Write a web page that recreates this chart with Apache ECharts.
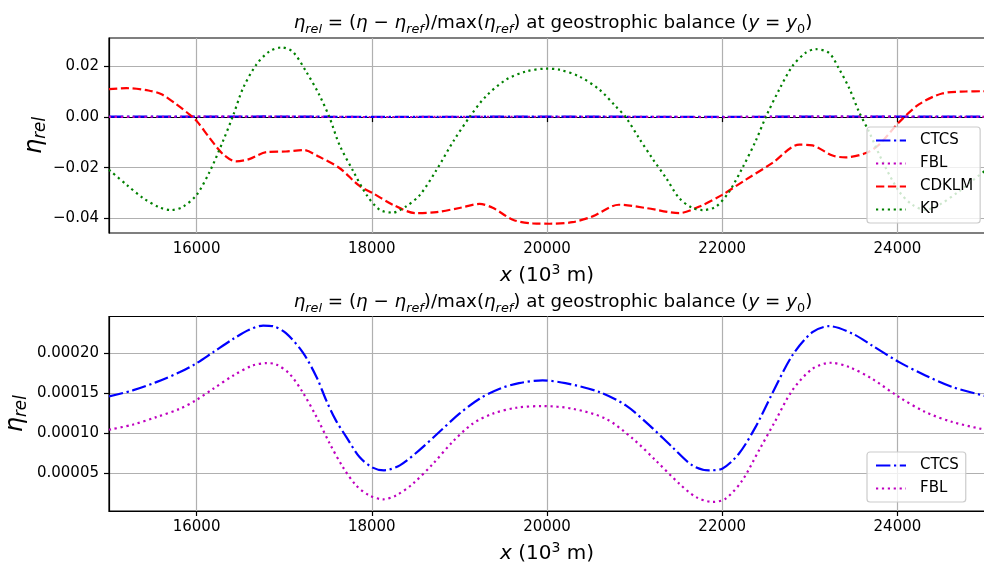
<!DOCTYPE html>
<html><head><meta charset="utf-8">
<script src="https://cdn.jsdelivr.net/npm/echarts@6/dist/echarts.min.js"></script>
<style>html,body{margin:0;padding:0;background:#fff}#c{width:984px;height:570px}</style>
</head><body><div id="c"></div>
<script>
// ---- data ----
const xTicks = [16000, 18000, 20000, 22000, 24000];
const yTicksTop = [-0.04, -0.02, 0.00, 0.02];
const yTicksBottom = [0.00005, 0.00010, 0.00015, 0.00020];

const ctcsX = [15000,15270,15540,15810,15990,16190,16420,16600,16760,16870,17020,17210,17370,17480,17590,17710,17860,18010,18140,18320,18540,18770,19000,19230,19460,19680,19950,20210,20600,20900,21170,21430,21660,21850,22000,22190,22380,22570,22800,23030,23220,23490,23710,24020,24320,24630,25000];
const ctcsY = [0.0001459,0.0001534,0.0001638,0.0001763,0.0001868,0.0002013,0.0002180,0.0002293,0.0002346,0.0002338,0.0002250,0.0002013,0.0001700,0.0001409,0.0001159,0.0000950,0.0000700,0.0000568,0.0000534,0.0000596,0.0000784,0.0001013,0.0001243,0.0001430,0.0001555,0.0001625,0.0001659,0.0001625,0.0001513,0.0001346,0.0001096,0.0000825,0.0000596,0.0000534,0.0000555,0.0000742,0.0001075,0.0001492,0.0001971,0.0002263,0.0002338,0.0002243,0.0002096,0.0001888,0.0001721,0.0001575,0.0001465];

const fblX = [15000,15270,15540,15810,15990,16190,16420,16640,16800,16910,17060,17210,17370,17520,17670,17820,17970,18130,18280,18470,18700,18920,19150,19380,19650,19950,20290,20670,20980,21240,21510,21700,21890,22040,22230,22420,22610,22800,23030,23240,23450,23710,24020,24320,24630,25000];
const fblY = [0.0001042,0.0001105,0.0001200,0.0001305,0.0001409,0.0001555,0.0001721,0.0001846,0.0001875,0.0001859,0.0001742,0.0001513,0.0001200,0.0000868,0.0000575,0.0000346,0.0000221,0.0000171,0.0000221,0.0000367,0.0000618,0.0000888,0.0001117,0.0001243,0.0001317,0.0001338,0.0001305,0.0001180,0.0000930,0.0000659,0.0000367,0.0000200,0.0000138,0.0000180,0.0000409,0.0000784,0.0001159,0.0001534,0.0001805,0.0001880,0.0001825,0.0001680,0.0001450,0.0001263,0.0001138,0.0001042];

const cdklmX = [15000,15200,15450,15600,15770,15920,16000,16150,16300,16450,16600,16800,17020,17220,17400,17630,17860,18010,18240,18500,18740,19000,19230,19380,19610,19840,20030,20290,20520,20820,21130,21510,21740,22000,22270,22570,22880,23030,23260,23410,23640,23790,24020,24250,24510,24780,25000];
const cdklmY = [0.0110,0.0114,0.0105,0.0090,0.0050,0.0010,-0.0015,-0.0083,-0.0146,-0.0175,-0.0166,-0.0138,-0.0136,-0.0130,-0.0157,-0.0201,-0.0272,-0.0300,-0.0346,-0.0379,-0.0375,-0.0359,-0.0343,-0.0358,-0.0405,-0.0420,-0.0421,-0.0415,-0.0392,-0.0346,-0.0359,-0.0379,-0.0353,-0.0307,-0.0247,-0.0182,-0.0109,-0.0112,-0.0152,-0.0159,-0.0142,-0.0109,-0.0020,0.0051,0.0093,0.0101,0.0102];

const kpX = [15000,15200,15390,15580,15710,15850,16000,16150,16300,16420,16530,16680,16830,16970,17100,17250,17400,17520,17630,17790,17940,18090,18240,18390,18550,18740,18930,19120,19300,19530,19760,19990,20140,20370,20600,20785,20900,21050,21200,21360,21510,21660,21775,21930,22080,22230,22380,22500,22650,22800,22950,23065,23220,23330,23450,23560,23675,23830,24020,24170,24320,24480,24700,24860,25000];
const kpY = [-0.0208,-0.0267,-0.0320,-0.0357,-0.0367,-0.0353,-0.0307,-0.0215,-0.0096,0.0009,0.0114,0.0206,0.0259,0.0275,0.0257,0.0180,0.0088,-0.0004,-0.0109,-0.0215,-0.0307,-0.0366,-0.0377,-0.0353,-0.0307,-0.0208,-0.0096,0.0002,0.0081,0.0147,0.0180,0.0191,0.0187,0.0160,0.0108,0.0042,-0.0001,-0.0083,-0.0162,-0.0241,-0.0320,-0.0359,-0.0367,-0.0353,-0.0294,-0.0201,-0.0096,0.0002,0.0108,0.0200,0.0253,0.0268,0.0253,0.0193,0.0114,0.0022,-0.0057,-0.0175,-0.0294,-0.0346,-0.0366,-0.0346,-0.0294,-0.0250,-0.0212];

// ---- chart ----
const pairs = (xs, ys) => xs.map((x, i) => [x, ys[i]]);
const FONT = 'DejaVu Sans';
const LW = 2.2;

const base = { fontFamily: FONT, color: '#000', fontWeight: 'normal' };
const titleRich = {
  n:  Object.assign({}, base, { fontSize: 18.3, lineHeight: 26, verticalAlign: 'middle' }),
  i:  Object.assign({}, base, { fontSize: 18.3, fontStyle: 'italic', lineHeight: 26, verticalAlign: 'middle' }),
  s:  Object.assign({}, base, { fontSize: 12.8, fontStyle: 'italic', lineHeight: 16, verticalAlign: 'bottom' }),
  s0: Object.assign({}, base, { fontSize: 12.8, lineHeight: 16, verticalAlign: 'bottom' })
};
const titleText = '{i|η}{s|rel}{n| = (}{i|η}{n| − }{i|η}{s|ref}{n|)/max(}{i|η}{s|ref}{n|) at geostrophic balance (}{i|y}{n| = }{i|y}{s0|0}{n|)}';

const xName = '{i|x}{n| (10}{p|3}{n| m)}';
const xNameRich = {
  n: Object.assign({}, base, { fontSize: 20, lineHeight: 26, verticalAlign: 'middle' }),
  i: Object.assign({}, base, { fontSize: 20, fontStyle: 'italic', lineHeight: 26, verticalAlign: 'middle' }),
  p: Object.assign({}, base, { fontSize: 14, lineHeight: 16, verticalAlign: 'top' })
};
const yName = '{i|η}{s|rel}';
const yNameRich = {
  i: Object.assign({}, base, { fontSize: 24, fontStyle: 'italic', lineHeight: 28, verticalAlign: 'middle' }),
  s: Object.assign({}, base, { fontSize: 16.8, fontStyle: 'italic', lineHeight: 18, verticalAlign: 'bottom' })
};

function xAxis(gi) {
  return {
    type: 'value', gridIndex: gi, min: 15000, max: 25000,
    name: xName, nameLocation: 'middle', nameGap: 30, nameMoveOverlap: false,
    nameTextStyle: { rich: xNameRich },
    axisLine: { show: true, lineStyle: { color: '#000', width: 1.2 } },
    axisTick: { show: true, length: 5, lineStyle: { color: '#000', width: 1.2 }, customValues: xTicks },
    axisLabel: { customValues: xTicks, color: '#000', fontFamily: FONT, fontSize: 15, margin: 9, formatter: v => String(v) },
    splitLine: { show: true, lineStyle: { color: '#b0b0b0', width: 1.2 } }
  };
}
function yAxis(gi, min, max, ticks, dec, gap) {
  return {
    type: 'value', gridIndex: gi, min: min, max: max,
    name: yName, nameLocation: 'middle', nameGap: gap, nameRotate: 90, nameMoveOverlap: false,
    nameTextStyle: { rich: yNameRich },
    axisLine: { show: true, lineStyle: { color: '#000', width: 1.2 } },
    axisTick: { show: true, length: 5, lineStyle: { color: '#000', width: 1.2 }, customValues: ticks },
    axisLabel: { customValues: ticks, color: '#000', fontFamily: FONT, fontSize: 15, margin: 10,
      formatter: v => v.toFixed(dec).replace('-', '\u2212') },
    splitLine: { show: true, lineStyle: { color: '#b0b0b0', width: 1.2 } }
  };
}
function line(name, gi, data, color, type) {
  return {
    name: name, type: 'line', xAxisIndex: gi, yAxisIndex: gi, data: data,
    symbol: 'none', showSymbol: false, smooth: 0.3, animation: false,
    lineStyle: { color: color, width: LW, type: type }, itemStyle: { color: color }
  };
}
const DASHDOT = [14.4, 3.6, 2.2, 3.6];
const DOTTED = [2.2, 3.7];
const DASHED = [8.3, 3.6];

function legend(names, top) {
  return {
    data: names, orient: 'vertical', left: 867, top: top,
    itemWidth: 30, itemHeight: 14, itemGap: 8,
    padding: [6, 7, 6, 8],
    backgroundColor: 'rgba(255,255,255,0.8)', borderColor: '#cccccc', borderWidth: 1.2, borderRadius: 3,
    itemStyle: { opacity: 0 },
    textStyle: { fontFamily: FONT, fontSize: 15, color: '#000', lineHeight: 15, padding: [0, 0, 0, 9] },
    z: 10
  };
}

const chart = echarts.init(document.getElementById('c'), null, { renderer: 'canvas' });
chart.setOption({
  animation: false,
  backgroundColor: '#fff',
  title: [
    { text: titleText, left: 548, top: 5, textAlign: 'center', textStyle: { rich: titleRich, fontWeight: 'normal' } },
    { text: titleText, left: 548, top: 284, textAlign: 'center', textStyle: { rich: titleRich, fontWeight: 'normal' } }
  ],
  grid: [
    { left: 109, top: 38, width: 876, height: 195, show: true, borderColor: '#000', borderWidth: 1.2, backgroundColor: 'transparent', containLabel: false, outerBoundsMode: 'none' },
    { left: 109, top: 316.5, width: 876, height: 194.5, show: true, borderColor: '#000', borderWidth: 1.2, backgroundColor: 'transparent', containLabel: false, outerBoundsMode: 'none' }
  ],
  xAxis: [xAxis(0), xAxis(1)],
  yAxis: [
    yAxis(0, -0.04576, 0.03121, yTicksTop, 2, 60),
    yAxis(1, 0.0000025, 0.0002459, yTicksBottom, 5, 79)
  ],
  legend: [
    legend(['CTCS', 'FBL', 'CDKLM', 'KP'], 127),
    legend(['CTCS', 'FBL'], 452)
  ],
  series: [
    line('CTCS', 0, pairs(ctcsX, ctcsY), '#0000ff', DASHDOT),
    line('FBL', 0, pairs(fblX, fblY), '#bf00bf', DOTTED),
    line('CDKLM', 0, pairs(cdklmX, cdklmY), '#ff0000', DASHED),
    line('KP', 0, pairs(kpX, kpY), '#008000', DOTTED),
    line('CTCS', 1, pairs(ctcsX, ctcsY), '#0000ff', DASHDOT),
    line('FBL', 1, pairs(fblX, fblY), '#bf00bf', DOTTED)
  ]
});
</script></body></html>
